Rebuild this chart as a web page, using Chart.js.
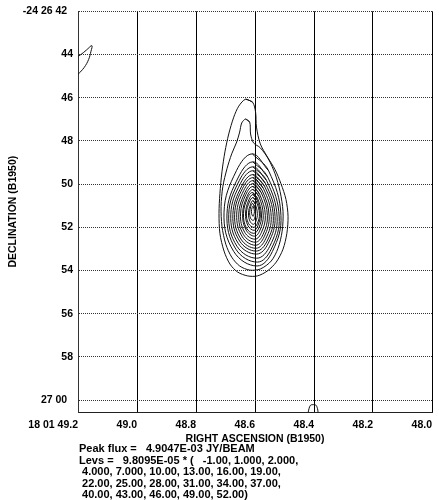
<!DOCTYPE html>
<html><head><meta charset="utf-8">
<script src="https://cdn.jsdelivr.net/npm/chart.js@4"></script>
<style>
html,body{margin:0;padding:0;background:#fff;}
#wrap{position:relative;width:439px;height:500px;}
canvas{position:absolute;left:0;top:0;}
.foot{position:absolute;left:79px;top:443px;font:bold 11px "Liberation Sans",Arial,sans-serif;white-space:pre;line-height:11.5px;color:#000;}
</style></head><body>
<div id="wrap"><canvas id="c" width="439" height="500"></canvas>
<div class="foot">Peak flux =   4.9047E-03 JY/BEAM
Levs =   9.8095E-05 * (   -1.00, 1.000, 2.000,
 4.000, 7.000, 10.00, 13.00, 16.00, 19.00,
 22.00, 25.00, 28.00, 31.00, 34.00, 37.00,
 40.00, 43.00, 46.00, 49.00, 52.00)</div></div>
<script>
// Axis ticks (RA seconds of 18h01m, Dec arcsec past -24d26m)
const xTickValues = [49.2, 49.0, 48.8, 48.6, 48.4, 48.2, 48.0];
const xTickLabels = ['18 01 49.2', '49.0', '48.8', '48.6', '48.4', '48.2', '48.0'];
const yTickValues = [42, 44, 46, 48, 50, 52, 54, 56, 58, 60];
const yTickLabels = ['-24 26 42  ', '44', '46', '48', '50', '52', '54', '56', '58', '27 00  '];

// Contour rings: level multiplier, closed flag, RA and Dec vertices
const ringLevel  = [1, 1, 1, 2, 4, 7, 10, 13, 16, 19, 22, 25, 28, 31, 34, 37, 40, 43, 46, 49];
const ringClosed = [false, false, true, true, true, true, true, true, true, true, true, true, true, true, true, true, true, true, true, true];
const ringRA = [
  [49.205,49.200,49.179,49.164,49.156,49.153,49.172,49.190,49.205],
  [48.420,48.417,48.412,48.404,48.394,48.388,48.386],
  [48.632,48.608,48.598,48.595,48.582,48.558,48.532,48.512,48.495,48.488,48.492,48.505,48.528,48.558,48.592,48.625,48.659,48.685,48.705,48.719,48.722,48.719,48.712,48.702,48.689,48.672,48.655],
  [48.632,48.618,48.615,48.605,48.582,48.555,48.532,48.515,48.505,48.508,48.522,48.545,48.582,48.618,48.652,48.679,48.699,48.712,48.715,48.709,48.695,48.679,48.662,48.652,48.645],
  [48.609,48.554,48.512,48.541,48.593,48.672,48.705,48.663],
  [48.607,48.557,48.518,48.545,48.592,48.665,48.695,48.656],
  [48.607,48.561,48.525,48.550,48.594,48.661,48.689,48.653],
  [48.607,48.565,48.532,48.555,48.595,48.657,48.682,48.649],
  [48.607,48.568,48.538,48.559,48.596,48.652,48.675,48.645],
  [48.607,48.572,48.545,48.564,48.597,48.648,48.669,48.642],
  [48.607,48.576,48.552,48.569,48.598,48.643,48.662,48.638],
  [48.607,48.579,48.558,48.573,48.599,48.639,48.655,48.634],
  [48.607,48.584,48.565,48.578,48.600,48.635,48.649,48.631],
  [48.607,48.587,48.572,48.583,48.601,48.630,48.642,48.627],
  [48.609,48.591,48.578,48.587,48.604,48.629,48.639,48.626],
  [48.607,48.593,48.582,48.590,48.603,48.624,48.632,48.621],
  [48.607,48.595,48.585,48.592,48.604,48.622,48.629,48.619],
  [48.607,48.599,48.592,48.597,48.605,48.617,48.622,48.615],
  [48.608,48.602,48.598,48.601,48.606,48.615,48.618,48.614],
  [48.607,48.604,48.602,48.604,48.606,48.610,48.612,48.610]
];
const ringDec = [
  [45.00,44.92,44.60,44.23,43.85,43.59,43.80,44.00,44.12],
  [60.60,60.40,60.24,60.21,60.23,60.40,60.60],
  [46.07,46.21,46.67,47.36,48.14,48.74,49.33,49.98,50.71,51.49,52.28,53.01,53.61,54.02,54.25,54.25,54.07,53.70,53.10,52.28,51.36,50.44,49.43,48.51,47.68,46.90,46.39],
  [46.99,47.13,47.68,48.09,48.32,48.83,49.52,50.34,51.26,52.18,52.97,53.56,53.93,53.98,53.79,53.38,52.78,51.95,51.03,50.11,49.29,48.60,48.05,47.59,47.17],
  [48.60,49.38,51.45,53.12,53.79,53.12,51.30,49.38],
  [48.97,49.67,51.52,53.01,53.61,53.01,51.38,49.67],
  [49.20,49.83,51.53,52.88,53.43,52.88,51.40,49.83],
  [49.38,49.96,51.50,52.74,53.24,52.74,51.39,49.96],
  [49.56,50.09,51.51,52.64,53.10,52.64,51.40,50.09],
  [49.70,50.19,51.50,52.54,52.97,52.54,51.40,50.19],
  [49.84,50.29,51.48,52.44,52.83,52.44,51.39,50.29],
  [49.98,50.39,51.47,52.34,52.69,52.34,51.39,50.39],
  [50.11,50.48,51.45,52.23,52.55,52.23,51.38,50.48],
  [50.25,50.57,51.44,52.13,52.41,52.13,51.37,50.57],
  [50.39,50.67,51.43,52.03,52.28,52.03,51.37,50.67],
  [50.48,50.73,51.39,51.92,52.14,51.92,51.34,50.73],
  [50.62,50.83,51.38,51.82,52.00,51.82,51.34,50.83],
  [50.76,50.93,51.37,51.72,51.86,51.72,51.33,50.93],
  [50.90,51.02,51.33,51.58,51.68,51.58,51.31,51.02],
  [51.03,51.10,51.28,51.43,51.49,51.43,51.27,51.10]
];

const FONT = {family: '"Liberation Sans", Arial, sans-serif', size: 10.5, weight: 'bold'};
Chart.defaults.font = Object.assign({}, Chart.defaults.font, FONT);
Chart.defaults.color = '#000';

const datasets = ringRA.map((ras, i) => {
  let pts = ras.map((ra, j) => ({x: ra, y: ringDec[i][j]}));
  if (ringClosed[i]) pts = pts.concat([pts[0], pts[1]]);
  return {
    label: 'Level ' + ringLevel[i],
    data: pts,
    showLine: true,
    pointRadius: 0,
    borderColor: '#111',
    borderWidth: 1,
    tension: ringClosed[i] && ras.length > 10 ? 0.3 : 0.4,
    fill: false
  };
});

new Chart(document.getElementById('c'), {
  type: 'scatter',
  data: {datasets},
  options: {
    responsive: false,
    animation: false,
    devicePixelRatio: 1,
    layout: {autoPadding: false, padding: {left: 0, right: 2, top: 8, bottom: 55}},
    plugins: {legend: {display: false}, tooltip: {enabled: false}},
    scales: {
      x: {
        type: 'linear', min: 48.0, max: 49.2, reverse: true,
        afterBuildTicks: s => { s.ticks = xTickValues.map(v => ({value: v})); },
        afterFit: s => { s.height = 33; },
        ticks: {align: 'end', padding: 7, autoSkip: false, maxRotation: 0, color: '#000', font: FONT,
                callback: (v, i) => xTickLabels[i]},
        grid: {color: '#000', lineWidth: 1, drawTicks: false},
        border: {color: '#222', width: 1},
        title: {display: true, text: 'RIGHT ASCENSION (B1950)', color: '#000', font: FONT, padding: {top: 1, bottom: 0}}
      },
      y: {
        type: 'linear', min: 42, max: 60.55, reverse: true,
        afterBuildTicks: s => { s.ticks = yTickValues.map(v => ({value: v})); },
        afterFit: s => { s.width = 78; },
        ticks: {padding: 5, autoSkip: false, color: '#000', font: FONT,
                callback: (v, i) => yTickLabels[i]},
        grid: {color: '#333', lineWidth: 1, drawTicks: false},
        border: {color: '#333', width: 1, dash: [1, 1]},
        title: {display: true, text: 'DECLINATION (B1950)', color: '#000', font: FONT, padding: {top: 6.4, bottom: 0}}
      }
    }
  }
});
</script>
</body></html>
